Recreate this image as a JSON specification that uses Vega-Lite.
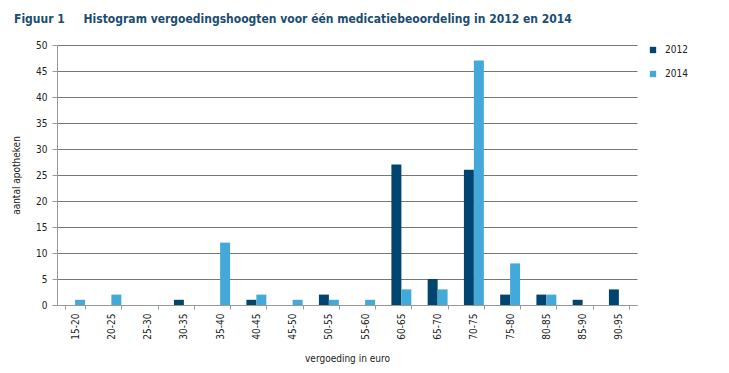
{
  "$schema": "https://vega.github.io/schema/vega-lite/v6.json",
  "width": 580,
  "height": 260,
  "autosize": {"type": "none"},
  "padding": {"left": 57, "top": 45, "right": 92, "bottom": 68},
  "background": "white",
  "title": {
    "text": "Figuur 1\u00a0\u00a0\u00a0\u00a0\u00a0Histogram vergoedingshoogten voor één medicatiebeoordeling in 2012 en 2014",
    "anchor": "start",
    "frame": "group",
    "dx": -43,
    "offset": 14,
    "font": "DejaVu Sans Condensed",
    "fontSize": 12,
    "fontWeight": "bold",
    "color": "#1b4d72"
  },
  "data": {
    "values": [
      {"klasse": "15-20", "jaar": "2012", "aantal": 0},
      {"klasse": "15-20", "jaar": "2014", "aantal": 1},
      {"klasse": "20-25", "jaar": "2012", "aantal": 0},
      {"klasse": "20-25", "jaar": "2014", "aantal": 2},
      {"klasse": "25-30", "jaar": "2012", "aantal": 0},
      {"klasse": "25-30", "jaar": "2014", "aantal": 0},
      {"klasse": "30-35", "jaar": "2012", "aantal": 1},
      {"klasse": "30-35", "jaar": "2014", "aantal": 0},
      {"klasse": "35-40", "jaar": "2012", "aantal": 0},
      {"klasse": "35-40", "jaar": "2014", "aantal": 12},
      {"klasse": "40-45", "jaar": "2012", "aantal": 1},
      {"klasse": "40-45", "jaar": "2014", "aantal": 2},
      {"klasse": "45-50", "jaar": "2012", "aantal": 0},
      {"klasse": "45-50", "jaar": "2014", "aantal": 1},
      {"klasse": "50-55", "jaar": "2012", "aantal": 2},
      {"klasse": "50-55", "jaar": "2014", "aantal": 1},
      {"klasse": "55-60", "jaar": "2012", "aantal": 0},
      {"klasse": "55-60", "jaar": "2014", "aantal": 1},
      {"klasse": "60-65", "jaar": "2012", "aantal": 27},
      {"klasse": "60-65", "jaar": "2014", "aantal": 3},
      {"klasse": "65-70", "jaar": "2012", "aantal": 5},
      {"klasse": "65-70", "jaar": "2014", "aantal": 3},
      {"klasse": "70-75", "jaar": "2012", "aantal": 26},
      {"klasse": "70-75", "jaar": "2014", "aantal": 47},
      {"klasse": "75-80", "jaar": "2012", "aantal": 2},
      {"klasse": "75-80", "jaar": "2014", "aantal": 8},
      {"klasse": "80-85", "jaar": "2012", "aantal": 2},
      {"klasse": "80-85", "jaar": "2014", "aantal": 2},
      {"klasse": "85-90", "jaar": "2012", "aantal": 1},
      {"klasse": "85-90", "jaar": "2014", "aantal": 0},
      {"klasse": "90-95", "jaar": "2012", "aantal": 3},
      {"klasse": "90-95", "jaar": "2014", "aantal": 0}
    ]
  },
  "mark": {"type": "bar"},
  "encoding": {
    "x": {
      "field": "klasse",
      "type": "nominal",
      "sort": null,
      "scale": {"paddingInner": 0.45, "paddingOuter": 0.225},
      "axis": {
        "title": "vergoeding in euro",
        "titleFont": "DejaVu Sans Condensed",
        "titleFontSize": 10,
        "titleFontWeight": "normal",
        "titleColor": "#222",
        "titlePadding": 14,
        "labelAngle": -90,
        "labelFont": "DejaVu Sans Condensed",
        "labelFontSize": 10,
        "labelColor": "#222",
        "labelPadding": 4,
        "tickBand": "extent",
        "tickSize": 4,
        "tickColor": "#999",
        "domainColor": "#999",
        "grid": false
      }
    },
    "xOffset": {"field": "jaar", "type": "nominal", "scale": {"paddingInner": 0, "paddingOuter": 0}},
    "y": {
      "field": "aantal",
      "type": "quantitative",
      "scale": {"domain": [0, 50]},
      "axis": {
        "title": "aantal apotheken",
        "titleFont": "DejaVu Sans Condensed",
        "titleFontSize": 10,
        "titleFontWeight": "normal",
        "titleColor": "#222",
        "titlePadding": 14,
        "values": [0, 5, 10, 15, 20, 25, 30, 35, 40, 45, 50],
        "labelFont": "DejaVu Sans Condensed",
        "labelFontSize": 10,
        "labelColor": "#222",
        "labelPadding": 5,
        "tickSize": 5,
        "tickColor": "#999",
        "domainColor": "#999",
        "gridColor": "#777",
        "gridOpacity": 1
      }
    },
    "color": {
      "field": "jaar",
      "type": "nominal",
      "scale": {"domain": ["2012", "2014"], "range": ["#00456f", "#42a9d8"]},
      "legend": {
        "title": null,
        "orient": "none",
        "legendX": 591,
        "legendY": 0,
        "symbolType": "square",
        "symbolSize": 40,
        "symbolStrokeWidth": 0,
        "labelFont": "DejaVu Sans Condensed",
        "labelFontSize": 10,
        "labelColor": "#222",
        "rowPadding": 14,
        "labelOffset": 7
      }
    }
  },
  "config": {"view": {"stroke": null}}
}
